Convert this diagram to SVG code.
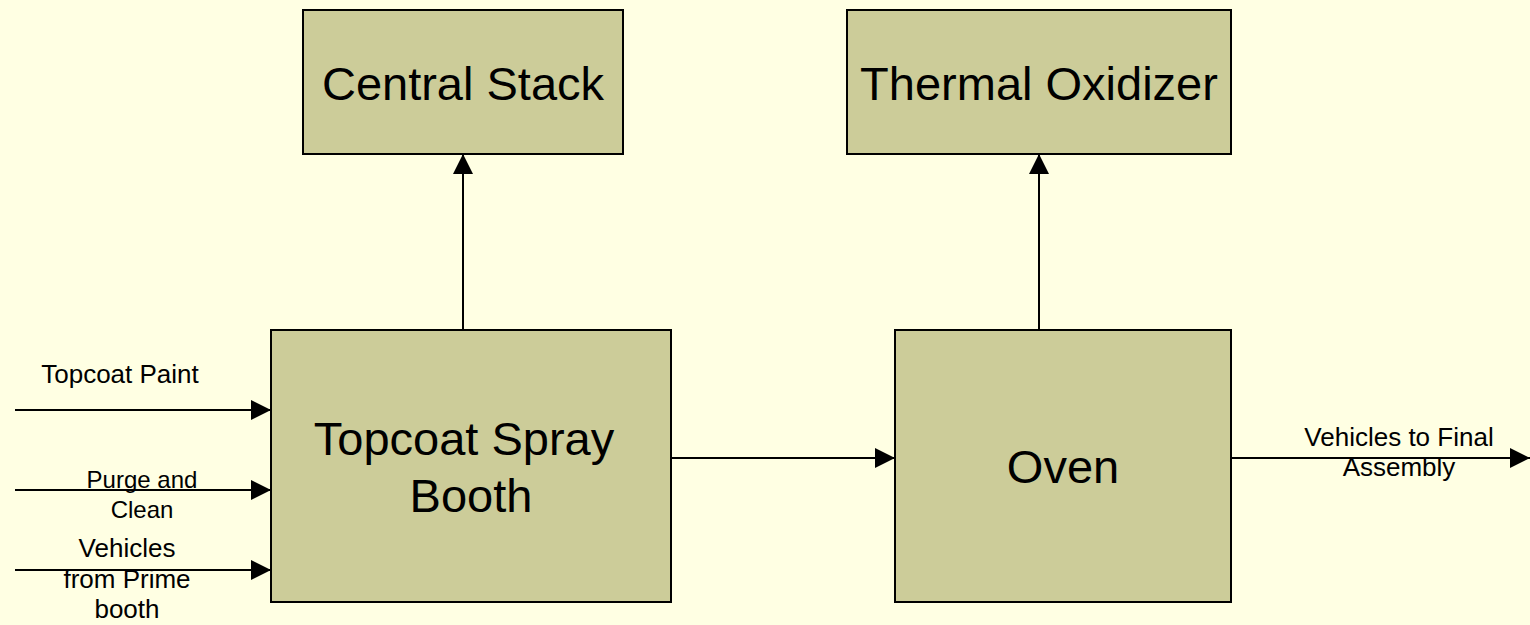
<svg xmlns="http://www.w3.org/2000/svg" width="1530" height="625" viewBox="0 0 1530 625">
  <defs>
    <marker id="arrow" markerUnits="userSpaceOnUse" markerWidth="20" markerHeight="20" refX="20" refY="10" orient="auto">
      <path d="M0,0 L20,10 L0,20 z" fill="#000"/>
    </marker>
    <style>
      .box { fill: #CCCC99; stroke: #000; stroke-width: 2; }
      .big { font-family: "Liberation Sans", Arial, sans-serif; font-size: 47px; fill: #000; text-anchor: middle; }
      .lbl { font-family: "Liberation Sans", Arial, sans-serif; font-size: 26px; fill: #000; text-anchor: middle; }
      .lbl2 { font-family: "Liberation Sans", Arial, sans-serif; font-size: 24px; fill: #000; text-anchor: middle; }
      .conn { stroke: #000; stroke-width: 2; fill: none; marker-end: url(#arrow); }
    </style>
  </defs>
  <rect x="0" y="0" width="1530" height="625" fill="#FFFFE3"/>

  <g id="connectors">
    <line class="conn" x1="15" y1="410" x2="271" y2="410"/>
    <line class="conn" x1="15" y1="490" x2="271" y2="490"/>
    <line class="conn" x1="15" y1="570" x2="271" y2="570"/>
    <line class="conn" x1="671" y1="458" x2="895" y2="458"/>
    <line class="conn" x1="1231" y1="458" x2="1530" y2="458"/>
    <line class="conn" x1="463" y1="330" x2="463" y2="154"/>
    <line class="conn" x1="1039" y1="330" x2="1039" y2="154"/>
  </g>

  <g id="central-stack">
    <rect class="box" x="303" y="10" width="320" height="144"/>
    <text class="big" x="463" y="100">Central Stack</text>
  </g>

  <g id="thermal-oxidizer">
    <rect class="box" x="847" y="10" width="384" height="144"/>
    <text class="big" x="1039" y="100">Thermal Oxidizer</text>
  </g>

  <g id="topcoat-spray-booth">
    <rect class="box" x="271" y="330" width="400" height="272"/>
    <text class="big" x="464" y="455">Topcoat Spray</text>
    <text class="big" x="471" y="512">Booth</text>
  </g>

  <g id="oven">
    <rect class="box" x="895" y="330" width="336" height="272"/>
    <text class="big" x="1063" y="483">Oven</text>
  </g>

  <g id="labels">
    <text class="lbl" x="120" y="383">Topcoat Paint</text>
    <text class="lbl2" x="142" y="488">Purge and</text>
    <text class="lbl2" x="142" y="518">Clean</text>
    <text class="lbl" x="127" y="557">Vehicles</text>
    <text class="lbl" x="127" y="588">from Prime</text>
    <text class="lbl" x="127" y="618">booth</text>
    <text class="lbl" x="1399" y="446">Vehicles to Final</text>
    <text class="lbl" x="1399" y="476">Assembly</text>
  </g>
</svg>
